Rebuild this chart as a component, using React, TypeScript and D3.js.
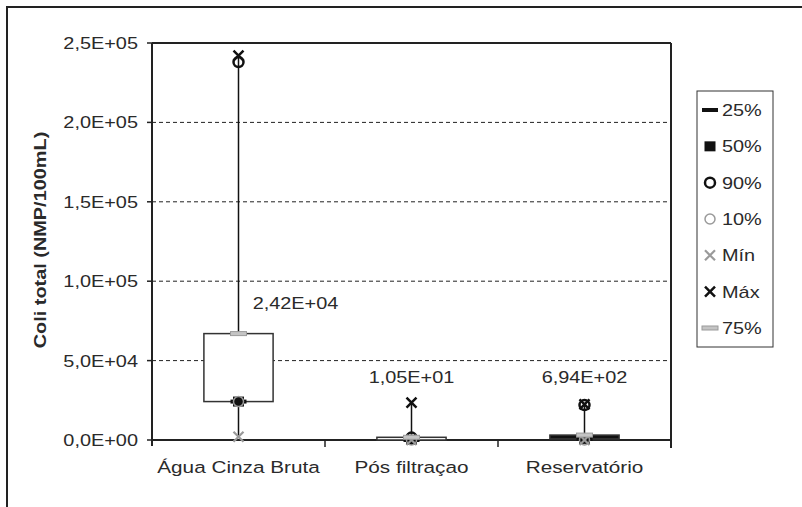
import React from "react";
import * as d3 from "d3";

const categories = ["Água Cinza Bruta", "Pós filtraçao", "Reservatório"];
const p25 = [24200, 10.5, 694];
const p50 = [24200, 10.5, 694];
const p90 = [238000, 1500, 22000];
const p10 = [24200, 5, 50];
const minV = [2000, 0, 0];
const maxV = [242000, 23500, 22500];
const p75 = [67000, 1700, 3100];
const dataLabels = ["2,42E+04", "1,05E+01", "6,94E+02"];
const labelValue = [86000, 39500, 39500];
const yTicks = [0, 50000, 100000, 150000, 200000, 250000];
const legendItems = ["25%", "50%", "90%", "10%", "Mín", "Máx", "75%"];

const W = 802, H = 507;
const M = { left: 152, right: 671, top: 43, bottom: 440 };
const FONT = "'Liberation Sans', Arial, sans-serif";
const SX = 1.17;
const BLACK = "#111";
const GRAY = "#9a9a9a";
const TEXT = "#2a2a2a";
const boxFill = ["#fff", "#fff", "#111"];

function fmt(v: number) {
  if (v === 0) return "0,0E+00";
  const e = Math.floor(Math.log10(v));
  const m = v / Math.pow(10, e);
  return m.toFixed(1).replace(".", ",") + "E+" + String(e).padStart(2, "0");
}

function Marker({ kind, x, y }: { kind: string; x: number; y: number }) {
  switch (kind) {
    case "25%":
      return <rect x={x - 8} y={y - 2} width={16} height={4} fill={BLACK} />;
    case "50%":
      return <rect x={x - 5.5} y={y - 5} width={11} height={10} fill={BLACK} />;
    case "90%":
      return <circle cx={x} cy={y} r={5} fill="none" stroke={BLACK} strokeWidth={2.5} />;
    case "10%":
      return <circle cx={x} cy={y} r={5} fill="none" stroke={GRAY} strokeWidth={1.5} />;
    case "Mín":
      return (
        <path d={`M${x - 5},${y - 5}L${x + 5},${y + 5}M${x - 5},${y + 5}L${x + 5},${y - 5}`} stroke={GRAY} strokeWidth={2.2} />
      );
    case "Máx":
      return (
        <path d={`M${x - 5},${y - 5}L${x + 5},${y + 5}M${x - 5},${y + 5}L${x + 5},${y - 5}`} stroke={BLACK} strokeWidth={2.5} />
      );
    case "75%":
      return <rect x={x - 8} y={y - 2} width={16} height={4} fill="#c4c4c4" stroke={GRAY} strokeWidth={1} />;
    default:
      return null;
  }
}

function T({ x, y, children, anchor = "start", size = 17, weight = "normal", rotate = 0, sx = SX }: any) {
  return (
    <text
      transform={`translate(${x},${y}) rotate(${rotate}) scale(${sx},1)`}
      textAnchor={anchor}
      fontFamily={FONT}
      fontSize={size}
      fontWeight={weight}
      fill={TEXT}
    >
      {children}
    </text>
  );
}

export default function App() {
  const x = d3.scaleBand<string>().domain(categories).range([M.left, M.right]);
  const y = d3.scaleLinear().domain([0, 250000]).range([M.bottom, M.top]);
  const boxW = x.bandwidth() * 0.4;
  const series: [string, number[]][] = [
    ["25%", p25],
    ["50%", p50],
    ["90%", p90],
    ["10%", p10],
    ["Mín", minV],
    ["Máx", maxV],
    ["75%", p75],
  ];
  const legendY = d3.scalePoint<string>().domain(legendItems).range([110, 328]);

  return (
    <svg width={W} height={H} style={{ position: "absolute", left: 0, top: 0, background: "#fff" }}>
      <rect x={0} y={0} width={W} height={H} fill="#fff" />
      {/* outer frame */}
      <path d={`M7,${H + 5}L7,7L${W + 5},7`} fill="none" stroke="#222" strokeWidth={2} />

      {/* gridlines */}
      {yTicks.filter((t) => t > 0 && t < 250000).map((t) => (
        <line key={t} x1={M.left} x2={M.right} y1={y(t)} y2={y(t)} stroke="#222" strokeWidth={1} strokeDasharray="4,3" />
      ))}

      {/* plot border */}
      <line x1={M.left} x2={M.right} y1={M.top} y2={M.top} stroke="#222" strokeWidth={2} />
      <line x1={M.right} x2={M.right} y1={M.top} y2={M.bottom + 8} stroke="#222" strokeWidth={2} />
      <line x1={M.left} x2={M.right} y1={M.bottom} y2={M.bottom} stroke="#222" strokeWidth={2} />
      <line x1={M.left} x2={M.left} y1={M.top} y2={M.bottom + 6} stroke="#222" strokeWidth={2} />

      {/* y ticks and labels */}
      {yTicks.map((t) => (
        <g key={t}>
          <line x1={M.left - 5} x2={M.left} y1={y(t)} y2={y(t)} stroke="#222" strokeWidth={1.5} />
          <T x={M.left - 14} y={y(t) + 6} anchor="end">{fmt(t)}</T>
        </g>
      ))}

      {/* x ticks */}
      {categories.slice(1).map((c) => (
        <line key={c} x1={x(c)!} x2={x(c)!} y1={M.bottom} y2={M.bottom + 7} stroke="#222" strokeWidth={1.5} />
      ))}
      {categories.map((c) => (
        <T key={c} x={x(c)! + x.bandwidth() / 2} y={M.bottom + 33} anchor="middle" sx={1.22}>{c}</T>
      ))}

      {/* axis title */}
      <T x={46} y={240} anchor="middle" weight="bold" rotate={-90}>Coli total (NMP/100mL)</T>

      {/* boxes */}
      {categories.map((c, i) => {
        const cx = x(c)! + x.bandwidth() / 2;
        return (
          <g key={c}>
            <line x1={cx} x2={cx} y1={y(maxV[i])} y2={y(minV[i])} stroke={BLACK} strokeWidth={1.5} />
            <rect
              x={cx - boxW / 2}
              y={y(p75[i])}
              width={boxW}
              height={Math.max(y(p25[i]) - y(p75[i]), 1)}
              fill={boxFill[i]}
              stroke="#333"
              strokeWidth={1.5}
            />
          </g>
        );
      })}

      {/* markers */}
      {series.map(([name, vals]) =>
        categories.map((c, i) => (
          <Marker key={name + c} kind={name} x={x(c)! + x.bandwidth() / 2} y={y(vals[i])} />
        ))
      )}

      {/* data labels */}
      {categories.map((c, i) => (
        <T
          key={"l" + c}
          x={x(c)! + x.bandwidth() / 2 + (i === 0 ? 57 : 0)}
          y={y(labelValue[i]) + 6}
          anchor="middle"
        >
          {dataLabels[i]}
        </T>
      ))}

      {/* legend */}
      <rect x={697} y={91} width={76} height={256} fill="#fff" stroke="#333" strokeWidth={1} />
      {legendItems.map((k) => (
        <g key={k}>
          <Marker kind={k} x={710} y={legendY(k)!} />
          <T x={722} y={legendY(k)! + 6}>{k}</T>
        </g>
      ))}
    </svg>
  );
}
